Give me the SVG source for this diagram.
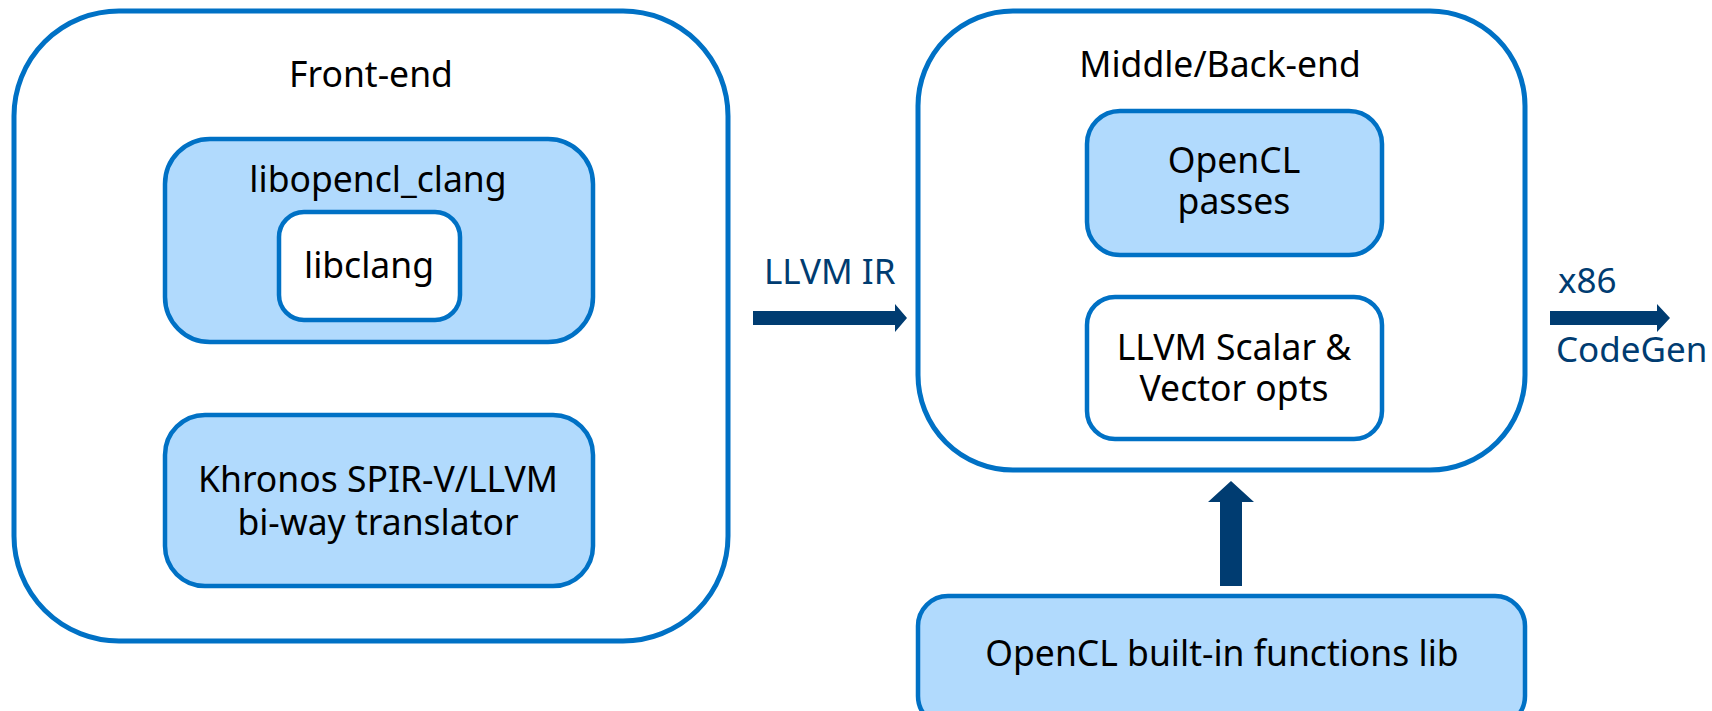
<svg xmlns="http://www.w3.org/2000/svg" width="1712" height="711" viewBox="0 0 1712 711">
<style>
.outer{fill:#fff;stroke:#0071C5;stroke-width:5}
.blue{fill:#B1DAFD;stroke:#0071C5;stroke-width:4.5}
.white{fill:#fff;stroke:#0071C5;stroke-width:4.5}
text{font-family:"Noto Sans","Open Sans",sans-serif;font-size:35.5px;fill:#000;text-anchor:middle}
.lbl{fill:#003C71;text-anchor:start;font-size:35px}
.arr{fill:#003C71}
</style>
<rect width="1712" height="711" fill="#fff"/>
<g id="frontend">
<rect class="outer" x="14" y="11" width="714" height="630" rx="105" ry="105"/>
<text x="371" y="87">Front-end</text>
</g>
<g id="libopencl_clang">
<rect class="blue" x="165" y="139" width="428" height="203" rx="45" ry="45"/>
<text x="378" y="192">libopencl_clang</text>
</g>
<g id="libclang">
<rect class="white" x="279" y="212" width="181" height="108" rx="25" ry="25"/>
<text x="369" y="278">libclang</text>
</g>
<g id="khronos">
<rect class="blue" x="165" y="415" width="428" height="171" rx="40" ry="40"/>
<text x="378" y="492">Khronos SPIR-V/LLVM</text>
<text x="378" y="535">bi-way translator</text>
</g>
<g id="middle">
<rect class="outer" x="918" y="11" width="607" height="459" rx="95" ry="95"/>
<text x="1220" y="77">Middle/Back-end</text>
</g>
<g id="openclpasses">
<rect class="blue" x="1087" y="111" width="295" height="144" rx="33" ry="33"/>
<text x="1234" y="173">OpenCL</text>
<text x="1234" y="214">passes</text>
</g>
<g id="llvmopts">
<rect class="white" x="1087" y="297" width="295" height="142" rx="28" ry="28"/>
<text x="1234" y="360">LLVM Scalar &amp;</text>
<text x="1234" y="401">Vector opts</text>
</g>
<g id="builtins">
<rect class="blue" x="918" y="596" width="607" height="130" rx="30" ry="30"/>
<text x="1222" y="666">OpenCL built-in functions lib</text>
</g>
<g id="connectors">
<polygon class="arr" points="753,311 895,311 895,304 907,318 895,332 895,325 753,325"/>
<text class="lbl" x="764" y="284">LLVM IR</text>
<polygon class="arr" points="1550,311 1657,311 1657,304 1670,318 1657,332 1657,325 1550,325"/>
<text class="lbl" x="1558" y="293">x86</text>
<text class="lbl" x="1556" y="362">CodeGen</text>
<polygon class="arr" points="1220,586 1220,502 1208,502 1231,481 1254,502 1242,502 1242,586"/>
</g>
</svg>
